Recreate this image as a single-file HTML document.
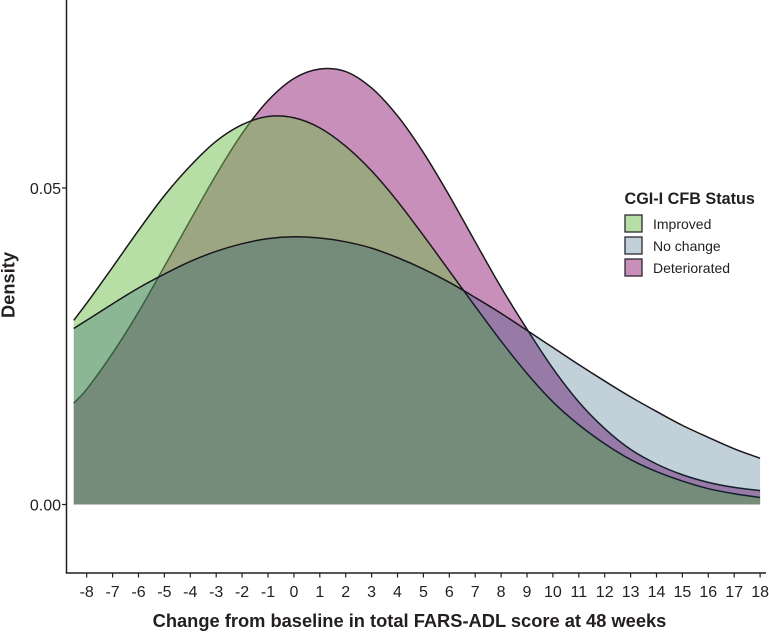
<!DOCTYPE html>
<html>
<head>
<meta charset="utf-8">
<title>Density of change in FARS-ADL score</title>
<style>
html,body{margin:0;padding:0;background:#fff;}
svg{display:block;font-family:"Liberation Sans",sans-serif;}
</style>
</head>
<body>
<svg id="chart" xmlns="http://www.w3.org/2000/svg" width="769" height="633" viewBox="0 0 769 633">
  <g id="marks"></g>
  <line x1="66.5" y1="0" x2="66.5" y2="573.5" stroke="#231f20" stroke-width="1.5"/>
  <line x1="65.8" y1="573" x2="766" y2="573" stroke="#231f20" stroke-width="1.5"/>
  <g id="xticks"></g>
  <g id="yticks"></g>
  <text x="409.5" y="627" text-anchor="middle" font-size="18.3" font-weight="bold" fill="#231f20">Change from baseline in total FARS-ADL score at 48 weeks</text>
  <text transform="translate(14.5,285) rotate(-90)" text-anchor="middle" font-size="18.3" font-weight="bold" fill="#231f20">Density</text>
  <g>
    <text x="624.5" y="204" font-size="16.2" font-weight="bold" fill="#231f20">CGI-I CFB Status</text>
    <rect x="625" y="215" width="17" height="17" fill="#b7dea5" stroke="#2b2730" stroke-width="1.3"/>
    <text x="653" y="229" font-size="14" fill="#231f20">Improved</text>
    <rect x="625" y="237" width="17" height="17" fill="#c2d0da" stroke="#2b2730" stroke-width="1.3"/>
    <text x="653" y="251" font-size="14" fill="#231f20">No change</text>
    <rect x="625" y="259" width="17" height="17" fill="#c88fbb" stroke="#2b2730" stroke-width="1.3"/>
    <text x="653" y="273" font-size="14" fill="#231f20">Deteriorated</text>
  </g>
</svg>
<script>
var xGrid = [-8.5,-8,-7,-6,-5,-4,-3,-2,-1,0,1,2,3,4,5,6,7,8,9,10,11,12,13,14,15,16,17,18];
var improved = [.0291,.0318,.0375,.0433,.0488,.0535,.0574,.0600,.0613,.0611,.0595,.0566,.0527,.0479,.0425,.0369,.0313,.0258,.0207,.0162,.0126,.0096,.0071,.0052,.0037,.0025,.0017,.0011];
var noChange = [.0278,.0291,.0317,.0342,.0364,.0384,.0400,.0412,.0420,.0423,.0421,.0415,.0405,.0390,.0372,.0351,.0327,.0302,.0275,.0248,.0221,.0195,.0170,.0147,.0125,.0106,.0088,.0073];
var deteriorated = [.0160,.0182,.0239,.0304,.0376,.0449,.0521,.0586,.0638,.0673,.0688,.0684,.0658,.0614,.0556,.0488,.0415,.0343,.0277,.0215,.0162,.0120,.0087,.0064,.0047,.0035,.0027,.0022];
var xTickValues = [-8,-7,-6,-5,-4,-3,-2,-1,0,1,2,3,4,5,6,7,8,9,10,11,12,13,14,15,16,17,18];
var yTickValues = [0,0.05];
var yTickLabels = ["0.00","0.05"];

var NS = "http://www.w3.org/2000/svg";
function xScale(v){ return 86.7 + (v + 8) * 25.9; }
function yScale(v){ return 504.5 - v * 6330; }

function curvePath(values){
  var pts = values.map(function(v,i){ return [xScale(xGrid[i]), yScale(v)]; });
  var d = "M" + pts[0][0].toFixed(2) + "," + pts[0][1].toFixed(2);
  for (var i = 0; i < pts.length - 1; i++){
    var p0 = pts[Math.max(i-1,0)], p1 = pts[i], p2 = pts[i+1], p3 = pts[Math.min(i+2,pts.length-1)];
    var h = p2[0]-p1[0];
    var m1 = (p2[1]-p0[1])/(p2[0]-p0[0]);
    var m2 = (p3[1]-p1[1])/(p3[0]-p1[0]);
    d += "C" + (p1[0]+h/3).toFixed(2) + "," + (p1[1]+m1*h/3).toFixed(2) + " " +
         (p2[0]-h/3).toFixed(2) + "," + (p2[1]-m2*h/3).toFixed(2) + " " +
         p2[0].toFixed(2) + "," + p2[1].toFixed(2);
  }
  return d;
}
function areaPath(values){
  var base = yScale(0).toFixed(2);
  return curvePath(values) + "L" + xScale(xGrid[xGrid.length-1]).toFixed(2) + "," + base +
         "L" + xScale(xGrid[0]).toFixed(2) + "," + base + "Z";
}

var marks = document.getElementById("marks");

var areaP = document.createElementNS(NS,"path");
areaP.setAttribute("d", areaPath(deteriorated));
areaP.setAttribute("fill", "#c88fbb");


marks.appendChild(areaP);

var lineP = document.createElementNS(NS,"path");
lineP.setAttribute("d", curvePath(deteriorated));
lineP.setAttribute("fill", "none");
lineP.setAttribute("stroke", "#1a171b");
lineP.setAttribute("stroke-width", "1.5");


marks.appendChild(lineP);

var areaG = document.createElementNS(NS,"path");
areaG.setAttribute("d", areaPath(improved));
areaG.setAttribute("fill", "#6fbd4b");
areaG.setAttribute("fill-opacity", "0.5");


marks.appendChild(areaG);

var lineG = document.createElementNS(NS,"path");
lineG.setAttribute("d", curvePath(improved));
lineG.setAttribute("fill", "none");
lineG.setAttribute("stroke", "#1a171b");
lineG.setAttribute("stroke-width", "1.5");


marks.appendChild(lineG);

var areaB = document.createElementNS(NS,"path");
areaB.setAttribute("d", areaPath(noChange));
areaB.setAttribute("fill", "#003b64");
areaB.setAttribute("fill-opacity", "0.24");


marks.appendChild(areaB);

var lineB = document.createElementNS(NS,"path");
lineB.setAttribute("d", curvePath(noChange));
lineB.setAttribute("fill", "none");
lineB.setAttribute("stroke", "#1a171b");
lineB.setAttribute("stroke-width", "1.5");


marks.appendChild(lineB);

var xticks = document.getElementById("xticks");
xTickValues.forEach(function(v){
  var t = document.createElementNS(NS,"line");
  t.setAttribute("x1", xScale(v));
  t.setAttribute("x2", xScale(v));
  t.setAttribute("y1", 573);
  t.setAttribute("y2", 577.5);
  t.setAttribute("stroke", "#231f20");
  t.setAttribute("stroke-width", "1.2");
  
  
  xticks.appendChild(t);
  var l = document.createElementNS(NS,"text");
  l.setAttribute("x", xScale(v));
  l.setAttribute("y", 597);
  l.setAttribute("text-anchor", "middle");
  l.setAttribute("font-size", "16");
  l.setAttribute("fill", "#231f20");
  
  
  l.textContent = String(v);
  xticks.appendChild(l);
});

var yticks = document.getElementById("yticks");
yTickValues.forEach(function(v,i){
  var t = document.createElementNS(NS,"line");
  t.setAttribute("x1", 62);
  t.setAttribute("x2", 66);
  t.setAttribute("y1", yScale(v));
  t.setAttribute("y2", yScale(v));
  t.setAttribute("stroke", "#231f20");
  t.setAttribute("stroke-width", "1.2");
  
  
  yticks.appendChild(t);
  var l = document.createElementNS(NS,"text");
  l.setAttribute("x", 61);
  l.setAttribute("y", yScale(v) + 5.8);
  l.setAttribute("text-anchor", "end");
  l.setAttribute("font-size", "16");
  l.setAttribute("fill", "#231f20");
  
  
  l.textContent = yTickLabels[i];
  yticks.appendChild(l);
});
</script>
</body>
</html>
